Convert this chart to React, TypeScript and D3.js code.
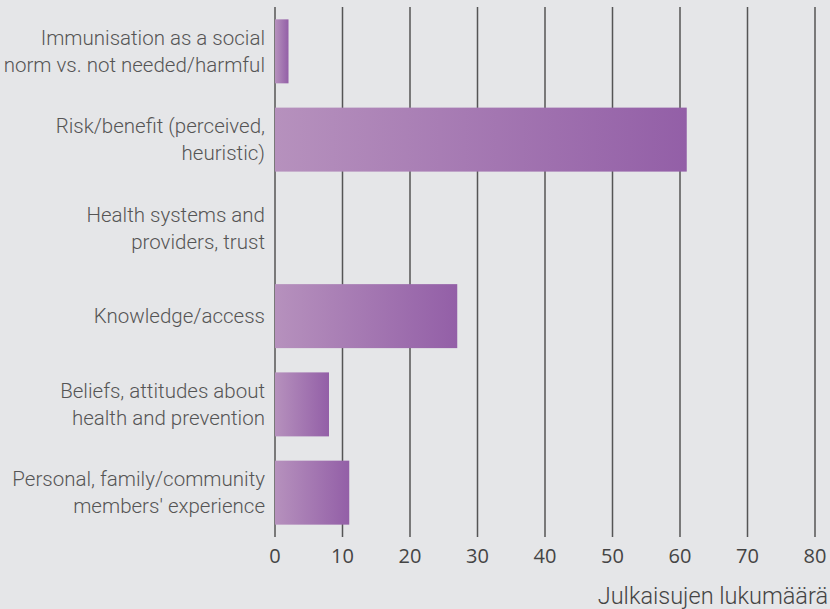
import React from "react";
import * as d3 from "d3";

const categories = [
  ["Immunisation as a social", "norm vs. not needed/harmful"],
  ["Risk/benefit (perceived,", "heuristic)"],
  ["Health systems and", "providers, trust"],
  ["Knowledge/access"],
  ["Beliefs, attitudes about", "health and prevention"],
  ["Personal, family/community", "members' experience"],
];
const values = [2, 61, 0, 27, 8, 11];
const ticks = [0, 10, 20, 30, 40, 50, 60, 70, 80];
const axisTitle = "Julkaisujen lukumäärä";

export default function App() {
  const W = 830, H = 609;
  const x = d3.scaleLinear().domain([0, 80]).range([275, 815]);
  const y = d3.scaleBand<number>().domain(d3.range(categories.length)).range([7, 537]).paddingInner(0.275).paddingOuter(0.14);
  return (
    <svg width={W} height={H} style={{ position: "absolute", left: 0, top: 0, background: "#e5e6e8" }}>
      <defs>
        <linearGradient id="bg" x1="0" x2="1" y1="0" y2="0">
          <stop offset="0" stopColor="#b691bd" />
          <stop offset="1" stopColor="#935fa7" />
        </linearGradient>
      </defs>
      <rect x={0} y={0} width={W} height={H} fill="#e5e6e8" />
      {ticks.map((t) => (
        <line key={t} x1={x(t)} x2={x(t)} y1={7} y2={537} stroke="#555" strokeWidth={1.5} />
      ))}
      {values.map((v, i) => (
        v > 0 ? <rect key={i} x={x(0)} y={y(i)} width={x(v) - x(0)} height={y.bandwidth()} fill="url(#bg)" /> : null
      ))}
      {categories.map((lines, i) => {
        const cy = (y(i) as number) + y.bandwidth() / 2;
        const lh = 27;
        const y0 = cy - ((lines.length - 1) * lh) / 2;
        return (
          <text key={i} x={265} textAnchor="end" fontFamily="Roboto" fontWeight={300} fontSize={20.5} fill="#555">
            {lines.map((l, j) => (
              <tspan key={j} x={265} y={y0 + j * lh} dy="0.35em">{l}</tspan>
            ))}
          </text>
        );
      })}
      {ticks.map((t) => (
        <text key={t} x={x(t)} y={556} dy="0.35em" textAnchor="middle" fontFamily="Open Sans" fontSize={20} fill="#444">{t}</text>
      ))}
      <text x={828} y={596} dy="0.35em" textAnchor="end" fontFamily="Roboto" fontWeight={300} fontSize={23.5} fill="#444">{axisTitle}</text>
    </svg>
  );
}
